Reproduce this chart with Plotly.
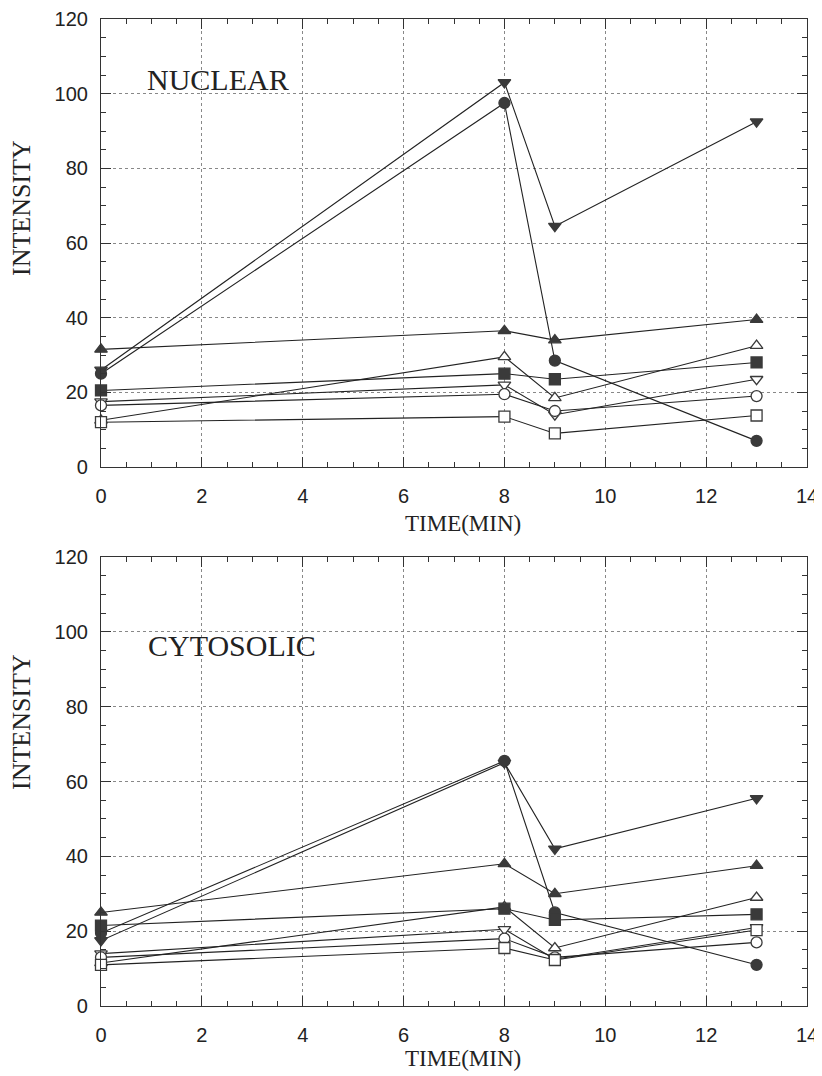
import plotly.graph_objects as go

time = [0, 8, 9, 13]

# NUCLEAR panel
nuc_filled_tri_down = [26, 103, 64.5, 92.5]
nuc_filled_circle = [25, 97.5, 28.5, 7]
nuc_filled_tri_up = [31.5, 36.5, 34, 39.5]
nuc_open_tri_up = [12.5, 29.5, 18.5, 32.5]
nuc_filled_square = [20.5, 25, 23.5, 28]
nuc_open_tri_down = [17.5, 22, 14, 23.5]
nuc_open_circle = [16.5, 19.5, 15, 19]
nuc_open_square = [12, 13.5, 9, 13.8]

# CYTOSOLIC panel
cyt_filled_tri_down = [17.5, 65, 42, 55.5]
cyt_filled_circle = [19.5, 65.5, 25, 11]
cyt_filled_tri_up = [25, 38, 30, 37.5]
cyt_open_tri_up = [11.5, 26.5, 15.5, 29]
cyt_filled_square = [21.5, 26, 23, 24.5]
cyt_open_tri_down = [14, 20.5, 12.5, 21]
cyt_open_circle = [13, 18, 13, 17]
cyt_open_square = [11, 15.5, 12.3, 20.3]

x_ticks = [0, 2, 4, 6, 8, 10, 12, 14]
y_ticks = [0, 20, 40, 60, 80, 100, 120]

DARK = "#3a3a3a"
styles = [
    ("triangle-down", True),
    ("circle", True),
    ("triangle-up", True),
    ("triangle-up", False),
    ("square", True),
    ("triangle-down", False),
    ("circle", False),
    ("square", False),
]

nuc = [nuc_filled_tri_down, nuc_filled_circle, nuc_filled_tri_up, nuc_open_tri_up,
       nuc_filled_square, nuc_open_tri_down, nuc_open_circle, nuc_open_square]
cyt = [cyt_filled_tri_down, cyt_filled_circle, cyt_filled_tri_up, cyt_open_tri_up,
       cyt_filled_square, cyt_open_tri_down, cyt_open_circle, cyt_open_square]

fig = go.Figure()
for panel, (xa, ya) in ((nuc, ("x", "y")), (cyt, ("x2", "y2"))):
    for vals, (sym, filled) in zip(panel, styles):
        fig.add_trace(go.Scatter(
            x=time, y=vals, xaxis=xa, yaxis=ya, mode="lines+markers",
            line=dict(color="#222222", width=1.1),
            marker=dict(symbol=sym, size=11,
                        color=DARK if filled else "white",
                        line=dict(color=DARK, width=1.3)),
            showlegend=False, cliponaxis=False,
        ))

# page offset of the figure (default body margin)
OFF = 8
W, H = 822 - OFF, 1076 - OFF
ml, mt = 101 - OFF, 19 - OFF
mr = W - (807 - OFF)
mb = H - (1006 - OFF)
ph = H - mt - mb
pw = W - ml - mr

def py(page_pix):
    return (H - mb - (page_pix - OFF)) / ph

def px(page_pix):
    return ((page_pix - OFF) - ml) / pw

tickfont = dict(family="Liberation Sans, Arial, sans-serif", size=20, color="#222222")
serif = "Liberation Serif, Times New Roman, serif"

def xaxis(anchor):
    return dict(range=[0, 14], tickvals=x_ticks, ticktext=[str(v) for v in x_ticks],
                anchor=anchor, automargin=False,
                showline=True, linecolor="#333333", linewidth=1.2, mirror="allticks",
                ticks="inside", ticklen=10, tickcolor="#333333", tickwidth=1,
                minor=dict(dtick=0.5, ticks="inside", ticklen=5, tickcolor="#333333", showgrid=False),
                showgrid=True, gridcolor="#888888", griddash="dot", gridwidth=1,
                zeroline=False, tickfont=tickfont, ticklabelstandoff=11)

def yaxis(anchor, dom):
    return dict(range=[0, 120], tickvals=y_ticks, ticktext=[str(v) for v in y_ticks],
                anchor=anchor, domain=dom, automargin=False,
                showline=True, linecolor="#333333", linewidth=1.2,
                mirror="allticks", ticks="inside", ticklen=10, tickcolor="#333333", tickwidth=1,
                minor=dict(dtick=5, ticks="inside", ticklen=5, tickcolor="#333333", showgrid=False),
                showgrid=True, gridcolor="#888888", griddash="dot", gridwidth=1,
                zeroline=False, tickfont=tickfont, ticklabelstandoff=8)

fig.update_layout(
    width=W, height=H, margin=dict(l=ml, r=mr, t=mt, b=mb, autoexpand=False),
    paper_bgcolor="white", plot_bgcolor="white",
    xaxis=xaxis("y"), yaxis=yaxis("x", [py(467), py(19)]),
    xaxis2=xaxis("y2"), yaxis2=yaxis("x2", [py(1006), py(557)]),
)

def ann(text, xp, yp, size, angle=0):
    return dict(text=text, x=px(xp), y=py(yp), xref="paper", yref="paper",
                xanchor="center", yanchor="middle", showarrow=False, textangle=angle,
                font=dict(family=serif, size=size, color="#222222"))

fig.update_layout(annotations=[
    ann("NUCLEAR", 218, 79, 30),
    ann("CYTOSOLIC", 232, 645, 30),
    ann("TIME(MIN)", 463, 523, 23),
    ann("TIME(MIN)", 463, 1058, 23),
    ann("INTENSITY", 21, 208, 26, -90),
    ann("INTENSITY", 21, 722, 26, -90),
])

fig.write_html("out.html")
